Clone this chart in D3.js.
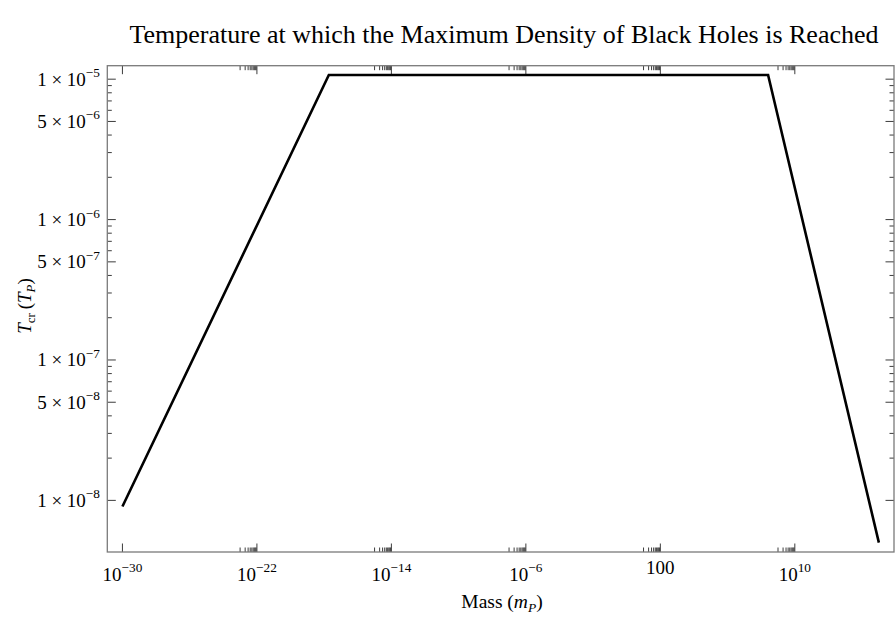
<!DOCTYPE html>
<html>
<head>
<meta charset="utf-8">
<script src="https://cdn.jsdelivr.net/npm/d3@7"></script>
<style>
  html, body { margin: 0; padding: 0; background: #fff; }
  svg { display: block; font-family: "Liberation Serif", "Times New Roman", serif; }
</style>
</head>
<body>
<svg id="chart" width="895" height="618"></svg>
<script>
// Critical temperature vs. black-hole mass (Planck units), log-log
const masses = [1e-30, 1.9e-18, 2.57e8, 1e15];
const temps  = [9.05e-9, 1.07e-5, 1.07e-5, 5.0e-9];

// Axis ticks
const xMajorExp = [-30, -22, -14, -6, 2, 10];
const xMajorLabels = [["10", "\u221230"], ["10", "\u221222"], ["10", "\u221214"], ["10", "\u22126"], ["100", null], ["10", "10"]];
const xMinorExp = [-22, -14, -6, 2, 10];     // decades that carry minor ticks just below them
const yMajor = [1e-5, 5e-6, 1e-6, 5e-7, 1e-7, 5e-8, 1e-8];
const yMajorLabels = [["1", "\u22125"], ["5", "\u22126"], ["1", "\u22126"], ["5", "\u22127"], ["1", "\u22127"], ["5", "\u22128"], ["1", "\u22128"]];
const yMinorMant = [2, 3, 4, 6, 7, 8, 9];
const yMinorExp = [-8, -7, -6];

const plotL = 107.3, plotR = 894, plotT = 65.7, plotB = 552;

const svg = d3.select("#chart");

// padded log domains (2% each side)
function padded(vals) {
  const lo = Math.log10(d3.min(vals)), hi = Math.log10(d3.max(vals));
  const p = (hi - lo) * 0.02;
  return [Math.pow(10, lo - p), Math.pow(10, hi + p)];
}
const x = d3.scaleLog().domain(padded(masses)).range([plotL, plotR]);
const y = d3.scaleLog().domain(padded(temps)).range([plotB, plotT]);

const frameColor = "#7a7a7a";
const tickColor = "#3c3c3c";
const majorLen = 8.5, minorLen = 4.5;

// minor tick values
const xMinor = [];
xMinorExp.forEach(e => { for (let m = 1; m <= 9; m++) xMinor.push(m * Math.pow(10, e - 1)); });
const yMinor = [];
yMinorExp.forEach(e => yMinorMant.forEach(m => yMinor.push(m * Math.pow(10, e))));
const xMajor = xMajorExp.map(e => Math.pow(10, e));

const ticks = svg.append("g").attr("stroke", tickColor).attr("stroke-width", 1);
// bottom and top ticks
[[plotB, -1], [plotT, 1]].forEach(([y0, dir]) => {
  ticks.append("g").selectAll("line").data(xMajor).join("line")
    .attr("x1", d => x(d)).attr("x2", d => x(d))
    .attr("y1", y0).attr("y2", y0 + dir * majorLen);
  ticks.append("g").selectAll("line").data(xMinor).join("line")
    .attr("x1", d => x(d)).attr("x2", d => x(d))
    .attr("y1", y0).attr("y2", y0 + dir * minorLen);
});
// left and right ticks
[[plotL, 1], [plotR, -1]].forEach(([x0, dir]) => {
  ticks.append("g").selectAll("line").data(yMajor).join("line")
    .attr("y1", d => y(d)).attr("y2", d => y(d))
    .attr("x1", x0).attr("x2", x0 + dir * majorLen);
  ticks.append("g").selectAll("line").data(yMinor).join("line")
    .attr("y1", d => y(d)).attr("y2", d => y(d))
    .attr("x1", x0).attr("x2", x0 + dir * minorLen);
});

// frame
svg.append("rect")
  .attr("x", plotL).attr("y", plotT)
  .attr("width", plotR - plotL).attr("height", plotB - plotT)
  .attr("fill", "none").attr("stroke", frameColor).attr("stroke-width", 1.3);

// curve
const line = d3.line().x((d, i) => x(masses[i])).y((d, i) => y(temps[i]));
svg.append("path")
  .datum(temps)
  .attr("d", line)
  .attr("fill", "none")
  .attr("stroke", "#000")
  .attr("stroke-width", 2.6)
  .attr("stroke-linejoin", "miter");

const fs = 19;
// x tick labels
const xl = svg.append("g").attr("font-size", fs).attr("fill", "#000");
xMajor.forEach((v, i) => {
  const [base, sup] = xMajorLabels[i];
  const t = xl.append("text").attr("x", x(v)).attr("y", 581).attr("text-anchor", "middle");
  if (sup) {
    t.append("tspan").text(base);
    t.append("tspan").attr("font-size", fs * 0.7).attr("dy", -fs * 0.45).text(sup);
  } else {
    t.attr("y", 574).text(base);
  }
});

// y tick labels
const yl = svg.append("g").attr("font-size", fs).attr("fill", "#000");
yMajor.forEach((v, i) => {
  const [mant, sup] = yMajorLabels[i];
  const t = yl.append("text").attr("x", 100).attr("y", y(v) + 6.5).attr("text-anchor", "end");
  t.append("tspan").text(mant + " \u00d7 10");
  t.append("tspan").attr("font-size", fs * 0.7).attr("dy", -fs * 0.45).text(sup);
});

// title
svg.append("text")
  .attr("x", 504).attr("y", 43)
  .attr("text-anchor", "middle")
  .attr("font-size", 26)
  .text("Temperature at which the Maximum Density of Black Holes is Reached");

// x axis label
const xt = svg.append("text")
  .attr("x", 502).attr("y", 608)
  .attr("text-anchor", "middle").attr("font-size", 19.5);
xt.append("tspan").text("Mass (");
xt.append("tspan").attr("font-style", "italic").text("m");
xt.append("tspan").attr("font-style", "italic").attr("font-size", 13.5).attr("dy", 3.5).text("P");
xt.append("tspan").attr("dy", -3.5).text(")");

// y axis label
const yt = svg.append("text")
  .attr("transform", `translate(31,306) rotate(-90)`)
  .attr("text-anchor", "middle").attr("font-size", 19);
yt.append("tspan").attr("font-style", "italic").text("T");
yt.append("tspan").attr("font-size", 13).attr("dy", 3.5).text("cr");
yt.append("tspan").attr("dy", -3.5).text("\u2009(");
yt.append("tspan").attr("font-style", "italic").text("T");
yt.append("tspan").attr("font-style", "italic").attr("font-size", 13).attr("dy", 3.5).text("P");
yt.append("tspan").attr("dy", -3.5).text(")");
</script>
</body>
</html>
